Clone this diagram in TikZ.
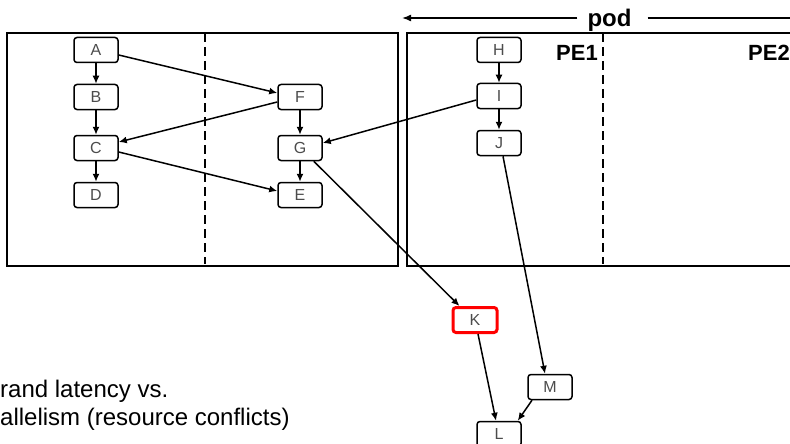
\documentclass[tikz,border=0pt]{standalone}
\usepackage{fontspec}
\setmainfont{Liberation Sans}
\usetikzlibrary{arrows.meta}

\begin{document}
\begin{tikzpicture}[x=1pt,y=-1pt,
  op/.style={draw, rounded corners=3pt, minimum width=44pt, minimum height=25pt,
    inner sep=0pt, line width=1.5pt, text=black!70,
    font=\fontsize{16}{16}\selectfont},
  hot/.style={op, draw=red, line width=3pt},
  dep/.style={line width=1.5pt, -{Latex[length=8pt,width=7pt]}},
  frame/.style={line width=2pt},
  split/.style={line width=1.5pt, dash pattern=on 9pt off 5pt},
  title/.style={inner sep=0pt, font=\fontsize{22}{22}\selectfont\bfseries},
  note/.style={inner sep=0pt, anchor=base west, font=\fontsize{24}{24}\selectfont}]

\useasboundingbox (0,0) rectangle (790,444);
\clip (0,0) rectangle (790,444);

% processing elements of the two pods
\draw[frame] (7,33) rectangle (398,266);
\draw[frame] (407,33) rectangle (820,266);
\draw[split] (205,33) -- (205,264);
\draw[split] (603,33) -- (603,264);

% pod span marker
\coordinate (podL) at (402,18);
\coordinate (podR) at (800,18);
\node[title, anchor=base, inner xsep=10pt, font=\fontsize{24}{24}\selectfont\bfseries] (pod) at (609.5,27) {pod};
\draw[line width=1.5pt, -{Latex[length=9pt,width=7pt]}] (pod.west |- podL) -- (podL);
\draw[line width=1.5pt] ([xshift=6pt]pod.east |- podR) -- (podR);

\node[title, anchor=base west] (pe1) at (556,60) {PE1};
\node[title, anchor=base west] (pe2) at (748,60) {PE2};

% operations
\node[op] (A) at (96,50)  {A};
\node[op] (B) at (96,97)  {B};
\node[op] (C) at (96,148) {C};
\node[op] (D) at (96,195) {D};
\node[op] (F) at (300,97)  {F};
\node[op] (G) at (300,148) {G};
\node[op] (E) at (300,195) {E};
\node[op] (H) at (499,50)  {H};
\node[op] (I) at (499,96)  {I};
\node[op] (J) at (499,143) {J};
\node[hot] (K) at (475,320) {K};
\node[op] (M) at (550,387) {M};
\node[op] (L) at (499,434) {L};

% dependences
\draw[dep] (A) -- (B);
\draw[dep] (B) -- (C);
\draw[dep] (C) -- (D);
\draw[dep] (F) -- (G);
\draw[dep] (G) -- (E);
\draw[dep] (H) -- (I);
\draw[dep] (I) -- (J);
\draw[dep] ([yshift=-5pt]A.east) -- ([yshift=4pt]F.west);
\draw[dep] ([yshift=-5pt]F.west) -- ([yshift=6pt]C.east);
\draw[dep] ([yshift=-4pt]C.east) -- ([yshift=4pt]E.west);
\draw[dep] ([yshift=-4pt]I.west) -- ([yshift=5pt]G.east);
\draw[dep] ([xshift=-9pt]G.south east) -- ([xshift=8pt]K.north west);
\draw[dep] ([xshift=4pt]J.south) -- ([xshift=-5pt]M.north);
\draw[dep] ([xshift=3pt]K.south) -- ([xshift=-3pt]L.north);
\draw[dep] ([xshift=-18pt]M.south) -- ([xshift=-4pt]L.north east);

% trade-off note
\node[note] (n1) at (0,397) {rand latency vs.};
\node[note] (n2) at (0,425) {allelism (resource conflicts)};
\end{tikzpicture}
\end{document}
